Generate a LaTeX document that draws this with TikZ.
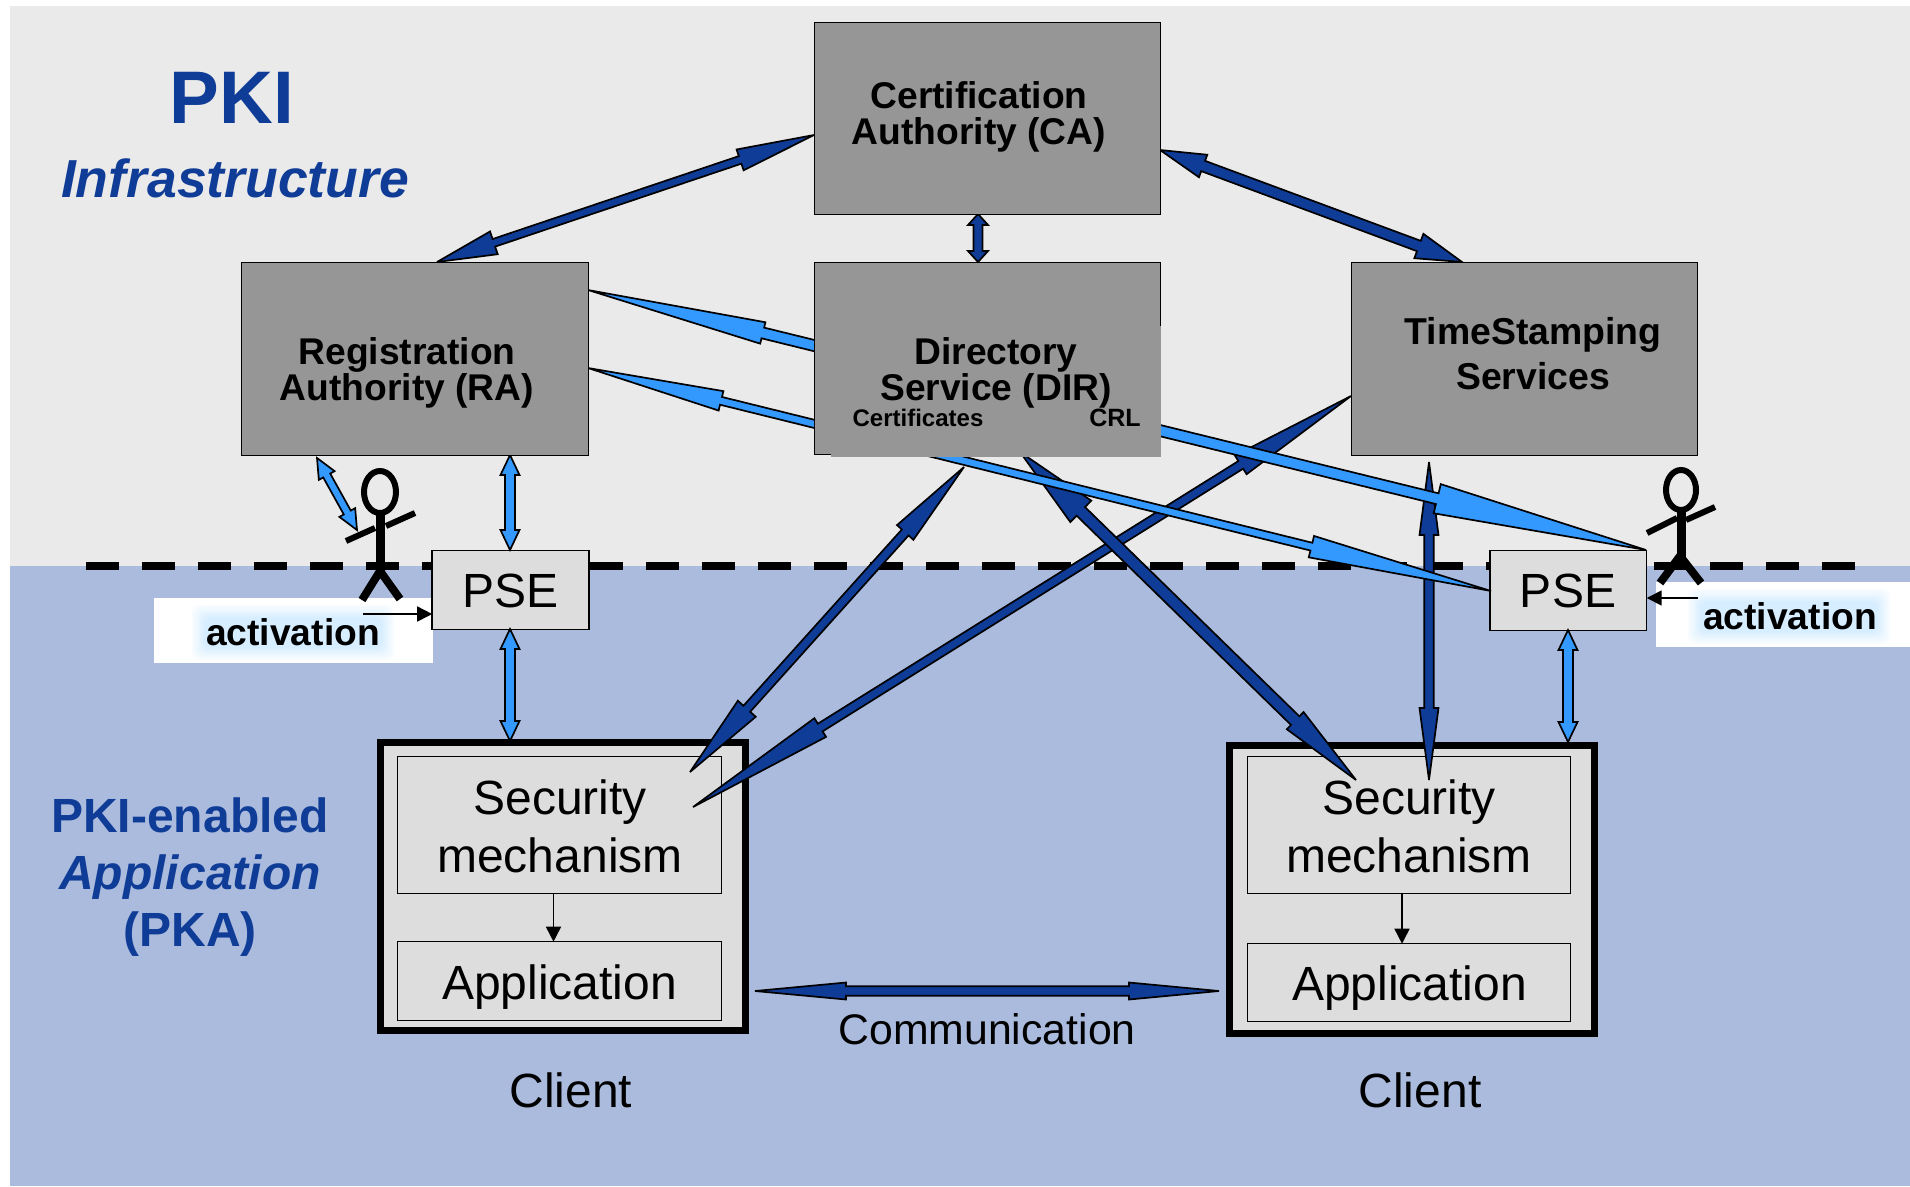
\documentclass[tikz,border=0pt]{standalone}
\usepackage{fontspec}
\setmainfont{Liberation Sans}
\usetikzlibrary{calc,arrows.meta}
\definecolor{topbg}{HTML}{EAEAEA}
\definecolor{botbg}{HTML}{AABBDD}
\definecolor{boxgray}{HTML}{969696}
\definecolor{innergray}{HTML}{DDDDDD}
\definecolor{darkb}{HTML}{0F3C96}
\definecolor{lightb}{HTML}{3399FF}
\definecolor{glowb}{HTML}{D6EEFF}
\newcommand{\fsz}[2]{\fontsize{#1}{#2}\selectfont}
% fill, from, to, half shaft, len@from, half@from, len@to, half@to
\newcommand{\blockarrow}[8]{%
  \draw[blockline,fill=#1] (#2)
    -- ($(#2)!#5!(#3)!#6!90:(#3)$)
    -- ($(#2)!#5!(#3)!#4!90:(#3)$)
    -- ($(#3)!#7!(#2)!#4!-90:(#2)$)
    -- ($(#3)!#7!(#2)!#8!-90:(#2)$)
    -- (#3)
    -- ($(#3)!#7!(#2)!#8!90:(#2)$)
    -- ($(#3)!#7!(#2)!#4!90:(#2)$)
    -- ($(#2)!#5!(#3)!#4!-90:(#3)$)
    -- ($(#2)!#5!(#3)!#6!-90:(#3)$)
    -- cycle;}
\tikzset{
  blockline/.style={draw=black,line width=1.7pt,line join=miter,miter limit=4},
  server/.style={draw=black,fill=boxgray,line width=1.2pt,inner sep=0pt,outer sep=0pt,anchor=north west,xshift=.7pt,yshift=-.7pt},
  lightbox/.style={draw=black,fill=innergray,line width=1.5pt,inner sep=0pt,outer sep=0pt,anchor=north west,xshift=.7pt,yshift=-.7pt},
  clientbox/.style={draw=black,fill=innergray,line width=7.5pt,inner sep=0pt,outer sep=0pt,anchor=north west},
  boldlabel/.style={font=\bfseries\fsz{37.2}{36},align=center,text=black,inner sep=0pt},
  plainlabel/.style={font=\fsz{48}{58},align=center,text=black,inner sep=0pt},
  headline/.style={text=darkb,align=center,inner sep=0pt},
  smallarrow/.style={draw=black,line width=1.6pt,-{Triangle[length=15pt,width=15pt]}},
  figureline/.style={draw=black,line cap=butt},
}
\begin{document}
\begin{tikzpicture}[x=1pt,y=-1pt]
\useasboundingbox (0,0) rectangle (1910,1186);
% backgrounds
\fill[white] (0,0) rectangle (1910,1186);
\fill[topbg] (10,6) rectangle (1910,566);
\fill[botbg] (10,566) rectangle (1910,1186);
% dashed boundary
\draw[black,line width=7.8pt,dash pattern=on 33pt off 23pt] (86,566) -- (1856,566);

% activation plates
\fill[white] (154,598) rectangle (433,663);
\fill[white] (1656,582) rectangle (1910,647);
\foreach \i in {1,...,7}{
  \pgfmathsetmacro{\m}{\i*100/7}
  \pgfmathsetmacro{\d}{16-2*\i}
  \fill[glowb!\m!white,rounded corners=8pt] (206-\d,619-\d) rectangle (380+\d,646+\d);
  \fill[glowb!\m!white,rounded corners=8pt] (1702-\d,603-\d) rectangle (1876+\d,630+\d);
}

% stick figures
\draw[figureline,line width=6pt] (380,492) ellipse [x radius=16pt,y radius=21pt];
\draw[figureline,line width=9pt] (380,514) -- (380,571);
\draw[figureline,line width=6pt] (346,541) -- (375,528);
\draw[figureline,line width=6pt] (386,526) -- (415,513);
\draw[figureline,line width=8pt] (362,600) -- (380,571) -- (400,599);
\draw[figureline,line width=6pt] (1681,490) ellipse [x radius=15pt,y radius=20pt];
\draw[figureline,line width=9pt] (1681,512) -- (1681,558);
\draw[figureline,line width=6pt] (1647,533) -- (1677,518);
\draw[figureline,line width=6pt] (1686,520) -- (1715,507);
\draw[figureline,line width=8pt] (1660,583) -- (1680,556) -- (1701,583);

% PSE boxes
\node[lightbox,minimum width=157pt,minimum height=79pt] (PSEL) at (431.5,550) {};
\node[lightbox,minimum width=156.5pt,minimum height=80pt] (PSER) at (1489.5,550) {};

% clients
\node[clientbox,minimum width=365pt,minimum height=288pt] (CLL) at (380.5,742.5) {};
\node[clientbox,minimum width=365pt,minimum height=288pt] (CLR) at (1229.5,745.5) {};
\node[lightbox,minimum width=324pt,minimum height=137pt] (SECL) at (397,756) {};
\node[lightbox,minimum width=324pt,minimum height=79pt] (APPL) at (397,941) {};
\node[lightbox,minimum width=323pt,minimum height=137pt] (SECR) at (1247,756) {};
\node[lightbox,minimum width=323pt,minimum height=78pt] (APPR) at (1247,943) {};

% connector end points
\coordinate (caW) at (814,135);
\coordinate (raN) at (437,262);
\coordinate (caE) at (1160,150);
\coordinate (tsN) at (1462,262);
\coordinate (caS) at (978,214);
\coordinate (dirN) at (978,262);
\coordinate (dirA) at (964,467);
\coordinate (secLa) at (690,772);
\coordinate (dirB) at (1020,452);
\coordinate (secRa) at (1356,780);
\coordinate (tsW) at (1351,396);
\coordinate (secLb) at (693,807);
\coordinate (tsS) at (1429,462);
\coordinate (secRb) at (1429,780);
\coordinate (raE1) at (588,290);
\coordinate (pseRn) at (1646,550);
\coordinate (raE2) at (588,368);
\coordinate (pseRw) at (1491,591);
\coordinate (raS1) at (510,455);
\coordinate (pseLn) at (510,550);
\coordinate (pseLs) at (510,629);
\coordinate (cllN) at (510,741);
\coordinate (pseRs) at (1568,630);
\coordinate (clrN) at (1568,742);
\coordinate (raS2) at (317,458);
\coordinate (figL) at (357,530);
\coordinate (cllE) at (755,991);
\coordinate (clrW) at (1219,991);

% dark connectors
\blockarrow{darkb}{caW}{raN}{4pt}{78pt}{11pt}{60pt}{12pt}
\blockarrow{darkb}{caE}{tsN}{5.5pt}{46pt}{12pt}{46pt}{13pt}
\blockarrow{darkb}{caS}{dirN}{4.5pt}{11pt}{10pt}{11pt}{10pt}
\blockarrow{darkb}{dirA}{secLa}{4.5pt}{88pt}{11pt}{85pt}{12pt}
\blockarrow{darkb}{tsW}{secLb}{4.5pt}{130pt}{11pt}{150pt}{11pt}
\blockarrow{darkb}{dirB}{secRa}{6pt}{85pt}{15pt}{85pt}{12pt}
\blockarrow{darkb}{tsS}{secRb}{4.7pt}{73pt}{9.5pt}{72pt}{9.5pt}
\blockarrow{darkb}{cllE}{clrW}{4.7pt}{91pt}{8.5pt}{90pt}{8.5pt}

% light connectors
\blockarrow{lightb}{raE1}{pseRn}{5.5pt}{180pt}{11pt}{215pt}{15pt}
\blockarrow{lightb}{raE2}{pseRw}{4pt}{137pt}{10pt}{185pt}{11pt}
\blockarrow{lightb}{raS1}{pseLn}{5pt}{20pt}{9.5pt}{20pt}{9.5pt}
\blockarrow{lightb}{pseLs}{cllN}{5pt}{20pt}{9.5pt}{20pt}{9.5pt}
\blockarrow{lightb}{pseRs}{clrN}{5pt}{20pt}{9.5pt}{20pt}{9.5pt}
\blockarrow{lightb}{raS2}{figL}{4pt}{20pt}{9pt}{20pt}{9pt}

% server boxes, on top of the arrows that end or pass behind them
\node[server,minimum width=346.5pt,minimum height=192pt] (CA) at (813.5,22) {};
\node[server,minimum width=347pt,minimum height=193pt] (RA) at (241,262) {};
\node[server,minimum width=346pt,minimum height=193pt] (TS) at (1351,262) {};
\node[server,minimum width=346.5pt,minimum height=192pt] (DIR) at (813.5,262) {};
\fill[boxgray] (831,326) rectangle (1161,457);

% inner small arrows
\draw[smallarrow] (SECL.south -| 553.5,0) -- (APPL.north -| 553.5,0);
\draw[smallarrow] (SECR.south -| 1402,0) -- (APPR.north -| 1402,0);
\coordinate (actL) at (363,614);
\coordinate (actR) at (1698,598);
\draw[smallarrow] (actL) -- (actL -| PSEL.west);
\draw[smallarrow] (actR) -- (actR -| PSER.east);

% texts
\node[headline,font=\bfseries\fsz{74.5}{80}] (tPKI) at (232,98) {PKI};
\node[headline,font=\bfseries\itshape\fsz{53.5}{60}] (tInf) at (235,178) {Infrastructure};
\node[headline,font=\bfseries\fsz{48}{57}] (tPKA) at (190,877) {PKI-enabled\\\textit{Application}\\(PKA)};

\node[boldlabel] (tCA) at (979,117) {Certification\\Authority (CA)};
\node[boldlabel] (tRA) at (407,373) {Registration\\Authority (RA)};
\node[boldlabel] (tDIR) at (996,373) {Directory\\Service (DIR)};
\node[boldlabel,font=\bfseries\fsz{37.4}{45}] (tTS) at (1533,354) {TimeStamping\\Services};
\node[boldlabel,font=\bfseries\fsz{24}{30}] (tCert) at (918,418) {Certificates};
\node[boldlabel,font=\bfseries\fsz{25}{30}] (tCRL) at (1115,418) {CRL};
\node[boldlabel] (tActL) at (293,632) {activation};
\node[boldlabel] (tActR) at (1790,616) {activation};

\node[plainlabel] (tPSEL) at (510.5,591) {PSE};
\node[plainlabel] (tPSER) at (1568,591) {PSE};
\node[plainlabel] (tSecL) at (560,826) {Security\\mechanism};
\node[plainlabel] (tSecR) at (1409,826) {Security\\mechanism};
\node[plainlabel] (tAppL) at (559.5,987) {Application};
\node[plainlabel] (tAppR) at (1409.5,988) {Application};
\node[plainlabel,font=\fsz{42.8}{50}] (tCom) at (987,1029) {Communication};
\node[plainlabel] (tCliL) at (571,1090) {Client};
\node[plainlabel] (tCliR) at (1420,1090) {Client};
\end{tikzpicture}
\end{document}
